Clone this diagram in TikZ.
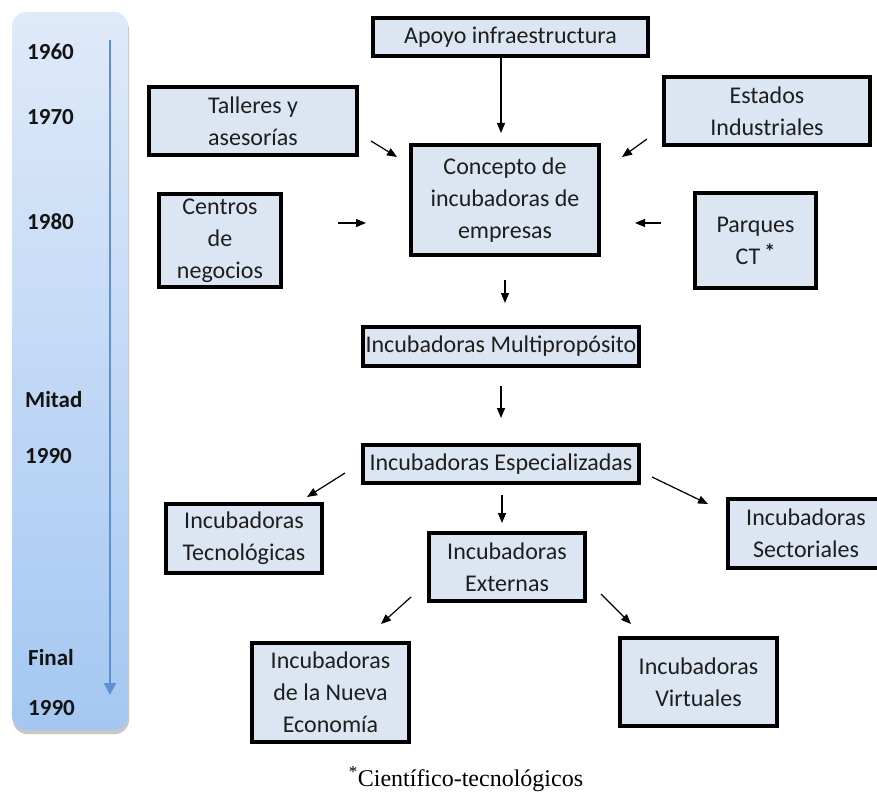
\documentclass[tikz,border=0pt]{standalone}
\usepackage{fontspec}
\setmainfont{Carlito}
\newfontfamily\serifft{Liberation Serif}
\usetikzlibrary{arrows.meta}
\definecolor{boxfill}{RGB}{220,230,242}
\definecolor{tlTop}{RGB}{223,234,249}
\definecolor{tlBot}{RGB}{164,199,242}
\definecolor{tlArrow}{RGB}{95,145,210}
\definecolor{txt}{RGB}{30,30,30}
\begin{document}
\begin{tikzpicture}[x=1pt,y=-1pt,
  box/.style={draw=black, line width=4pt, fill=boxfill, align=center, inner sep=0pt, text=txt, font=\fontsize{24}{32}\selectfont},
  conn/.style={-{Triangle[length=10pt,width=8pt]}, line width=1.2pt, black},
  yearlbl/.style={anchor=west, inner sep=0pt, font=\fontsize{23}{26}\selectfont\bfseries, text=black!92}
]
\useasboundingbox (0,0) rectangle (877,794);
\fill[white] (0,0) rectangle (877,794);
% timeline bar
\fill[black!22, rounded corners=14pt] (13,16) rectangle (129,734);
\shade[top color=tlTop, bottom color=tlBot, rounded corners=14pt] (12,12) rectangle (128,730);
\coordinate (tlA) at (110,40);
\coordinate (tlB) at (110,695);
\draw[tlArrow, line width=2.2pt, -{Triangle[length=12pt,width=12pt]}] (tlA) -- (tlB);
\node[yearlbl] (y1) at (27,52) {1960};
\node[yearlbl] (y2) at (27,117) {1970};
\node[yearlbl] (y3) at (27,222) {1980};
\node[yearlbl] (y4) at (25,400) {Mitad};
\node[yearlbl] (y5) at (25,456) {1990};
\node[yearlbl] (y6) at (28,658) {Final};
\node[yearlbl] (y7) at (28,708) {1990};
% boxes
\node[box, minimum width=275pt, minimum height=38pt] (apoyo) at (510.5,37) {Apoyo infraestructura};
\node[box, minimum width=208pt, minimum height=68pt] (talleres) at (253,121) {Talleres y\\asesorías};
\node[box, minimum width=206pt, minimum height=68pt] (estados) at (767,111) {Estados\\Industriales};
\node[box, minimum width=188pt, minimum height=110pt] (concepto) at (505,200) {Concepto de\\incubadoras de\\empresas};
\node[box, minimum width=122pt, minimum height=93pt] (centros) at (220,240.5) {Centros\\de\\negocios};
\node[box, minimum width=121pt, minimum height=95pt] (parques) at (755.5,240.5) {Parques\\CT\,\raisebox{5pt}{\bfseries\fontsize{22}{22}\selectfont *}};
\node[box, minimum width=276pt, minimum height=39pt] (multi) at (501,346.5) {Incubadoras Multipropósito};
\node[box, minimum width=276pt, minimum height=38pt] (espec) at (501,464) {Incubadoras Especializadas};
\node[box, minimum width=156pt, minimum height=69pt] (tecno) at (244,538.5) {Incubadoras\\Tecnológicas};
\node[box, minimum width=156pt, minimum height=68pt] (externas) at (507,567) {Incubadoras\\Externas};
\node[box, minimum width=156pt, minimum height=69pt] (sector) at (806,533.5) {Incubadoras\\Sectoriales};
\node[box, minimum width=157pt, minimum height=99pt] (nueva) at (330.5,692.5) {Incubadoras\\de la Nueva\\Economía};
\node[box, minimum width=157pt, minimum height=88pt] (virtual) at (698.5,682) {Incubadoras\\Virtuales};
% arrow end points
\coordinate (c1s) at (501,58);   \coordinate (c1e) at (501,133);
\coordinate (c2s) at (371,141);  \coordinate (c2e) at (397,157);
\coordinate (c3s) at (647,139);  \coordinate (c3e) at (622,157);
\coordinate (c4s) at (338,223);  \coordinate (c4e) at (366,223);
\coordinate (c5s) at (661,223);  \coordinate (c5e) at (635,223);
\coordinate (c6s) at (505,280);  \coordinate (c6e) at (505,303);
\coordinate (c7s) at (501,386);  \coordinate (c7e) at (501,418);
\coordinate (c8s) at (345,473);  \coordinate (c8e) at (307,497);
\coordinate (c9s) at (502,495);  \coordinate (c9e) at (502,523);
\coordinate (c10s) at (652,477); \coordinate (c10e) at (708,504);
\coordinate (c11s) at (411,597); \coordinate (c11e) at (381,624);
\coordinate (c12s) at (601,594); \coordinate (c12e) at (631,624);
\draw[conn] (c1s) -- (c1e);
\draw[conn] (c2s) -- (c2e);
\draw[conn] (c3s) -- (c3e);
\draw[conn] (c4s) -- (c4e);
\draw[conn] (c5s) -- (c5e);
\draw[conn] (c6s) -- (c6e);
\draw[conn] (c7s) -- (c7e);
\draw[conn] (c8s) -- (c8e);
\draw[conn] (c9s) -- (c9e);
\draw[conn] (c10s) -- (c10e);
\draw[conn] (c11s) -- (c11e);
\draw[conn] (c12s) -- (c12e);
% footnote
\node[inner sep=0pt, text=black] (fn) at (466,779) {\serifft\fontsize{24}{28}\selectfont\textsuperscript{*}Científico-tecnológicos};
\end{tikzpicture}
\end{document}
